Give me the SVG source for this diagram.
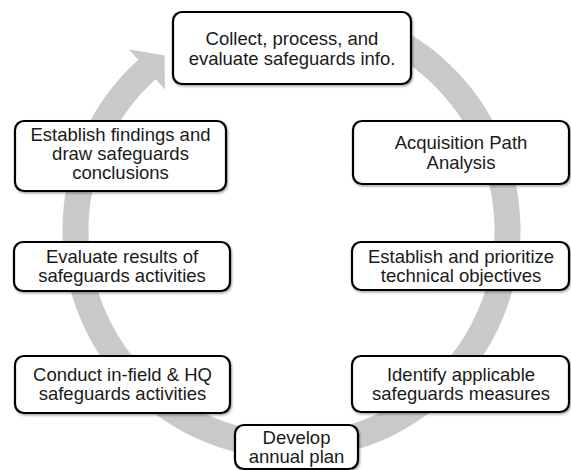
<svg xmlns="http://www.w3.org/2000/svg" width="571" height="470" viewBox="0 0 571 470">
<style>
.box{fill:#fff;stroke:#000;stroke-width:2.2;filter:url(#sh)}
.t{font-family:"Liberation Sans",Arial,sans-serif;font-size:18.5px;fill:#1a1a1a;text-anchor:middle}
.ring{fill:#c9c9c9;stroke:none}
</style>
<defs>
<filter id="sh" x="-5%" y="-10%" width="110%" height="125%">
<feDropShadow dx="1" dy="1.5" stdDeviation="1" flood-color="#000" flood-opacity="0.35"/>
</filter>
</defs>
<rect width="571" height="470" fill="#fff"/>
<g id="connectors">
<path class="ring" d="M388.28,22.46 A229,229 0 1 1 138.27,59.83 L128.91,49.43 L164.54,55.25 L165.04,89.55 L155.67,79.15 A203,203 0 1 0 377.29,46.02 Z"/>
</g>
<g id="n1">
<rect class="box" x="173" y="12" width="238" height="72" rx="9"/>
<text class="t" x="292" y="45">Collect, process, and</text>
<text class="t" x="292" y="65">evaluate safeguards info.</text>
</g>
<g id="n2">
<rect class="box" x="353" y="121" width="216" height="63" rx="9"/>
<text class="t" x="461" y="149">Acquisition Path</text>
<text class="t" x="461" y="169">Analysis</text>
</g>
<g id="n3">
<rect class="box" x="352" y="242" width="217" height="48" rx="9"/>
<text class="t" x="461" y="263">Establish and prioritize</text>
<text class="t" x="461" y="282">technical objectives</text>
</g>
<g id="n4">
<rect class="box" x="352" y="356" width="217" height="56" rx="9"/>
<text class="t" x="461" y="381">Identify applicable</text>
<text class="t" x="461" y="400">safeguards measures</text>
</g>
<g id="n5">
<rect class="box" x="235" y="425" width="123" height="44" rx="9"/>
<text class="t" x="296.5" y="444">Develop</text>
<text class="t" x="296.5" y="463">annual plan</text>
</g>
<g id="n6">
<rect class="box" x="15" y="356" width="215" height="57" rx="9"/>
<text class="t" x="122.5" y="381">Conduct in-field &amp; HQ</text>
<text class="t" x="122.5" y="400">safeguards activities</text>
</g>
<g id="n7">
<rect class="box" x="14" y="242" width="216" height="49" rx="9"/>
<text class="t" x="122" y="263">Evaluate results of</text>
<text class="t" x="122" y="282">safeguards activities</text>
</g>
<g id="n8">
<rect class="box" x="15" y="121" width="211" height="70" rx="9"/>
<text class="t" x="120.5" y="141">Establish findings and</text>
<text class="t" x="120.5" y="160">draw safeguards</text>
<text class="t" x="120.5" y="179">conclusions</text>
</g>
</svg>
